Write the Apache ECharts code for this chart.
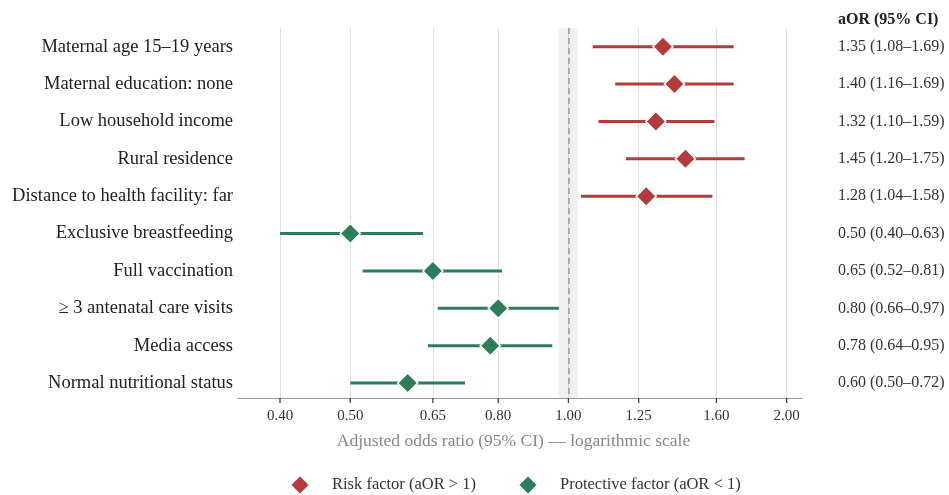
<!DOCTYPE html>
<html><head><meta charset="utf-8">
<script src="https://cdn.jsdelivr.net/npm/echarts@6/dist/echarts.min.js"></script>
<style>html,body{margin:0;padding:0;background:#fff}#c{width:949px;height:495px}</style>
</head><body><div id="c"></div>
<script>
const factors = ["Maternal age 15–19 years","Maternal education: none","Low household income","Rural residence","Distance to health facility: far","Exclusive breastfeeding","Full vaccination","≥ 3 antenatal care visits","Media access","Normal nutritional status"];
const aor = [1.35,1.40,1.32,1.45,1.28,0.50,0.65,0.80,0.78,0.60];
const lower = [1.08,1.16,1.10,1.20,1.04,0.40,0.52,0.66,0.64,0.50];
const upper = [1.69,1.69,1.59,1.75,1.58,0.63,0.81,0.97,0.95,0.72];
const tickValues = [0.40,0.50,0.65,0.80,1.00,1.25,1.60,2.00];
const ciLabels = ["1.35 (1.08–1.69)","1.40 (1.16–1.69)","1.32 (1.10–1.59)","1.45 (1.20–1.75)","1.28 (1.04–1.58)","0.50 (0.40–0.63)","0.65 (0.52–0.81)","0.80 (0.66–0.97)","0.78 (0.64–0.95)","0.60 (0.50–0.72)"];

const RED = '#b23b3b', GREEN = '#2e7d5a';
const FONT = '"Liberation Serif", "DejaVu Serif", serif';
const Y_MIN = -0.5, Y_MAX = 9.4;

const rowIdx = factors.map((_, i) => i);
const riskPts = [], protPts = [], riskCI = [], protCI = [];
aor.forEach((v, i) => {
  if (v > 1) { riskPts.push([v, i]); riskCI.push([lower[i], upper[i], i]); }
  else { protPts.push([v, i]); protCI.push([lower[i], upper[i], i]); }
});

function ciRender(color) {
  return function (params, api) {
    const a = api.coord([api.value(0), api.value(2)]);
    const b = api.coord([api.value(1), api.value(2)]);
    return { type: 'line', shape: { x1: a[0], y1: a[1], x2: b[0], y2: b[1] },
      style: { stroke: color, lineWidth: 3 } };
  };
}
function tickRender(params, api) {
  const p = api.coord([api.value(0), Y_MAX]);
  return { type: 'line', shape: { x1: p[0], y1: p[1], x2: p[0], y2: p[1] + 5 },
    style: { stroke: '#444', lineWidth: 1.3 } };
}

const yCommon = {
  type: 'value', inverse: true, min: Y_MIN, max: Y_MAX,
  axisLine: { show: false }, axisTick: { show: false }, splitLine: { show: false }
};

const chart = echarts.init(document.getElementById('c'));
chart.setOption({
  animation: false,
  textStyle: { fontFamily: FONT },
  title: { text: 'aOR (95% CI)', left: 833, top: 7,
    textStyle: { fontFamily: FONT, fontSize: 16, fontWeight: 'bold', color: '#222' } },
  grid: { left: 238, right: 147, top: 28, bottom: 97 },
  legend: {
    left: 284, top: 469, itemWidth: 20, itemHeight: 20, itemGap: 41, icon: 'diamond',
    data: ['Risk factor (aOR > 1)', 'Protective factor (aOR < 1)'],
    textStyle: { fontFamily: FONT, fontSize: 16.5, color: '#333', padding: [0, 0, 0, 17] }
  },
  xAxis: {
    type: 'log', logBase: 10, min: 0.35, max: 2.1,
    name: 'Adjusted odds ratio (95% CI) — logarithmic scale',
    nameLocation: 'middle', nameGap: 34,
    nameTextStyle: { fontFamily: FONT, fontSize: 17.5, color: '#888', padding: [0, 13, 0, 0] },
    axisLine: { show: true, onZero: false, lineStyle: { color: '#999', width: 1.2 } },
    axisTick: { show: false, customValues: tickValues },
    axisLabel: { show: true, customValues: tickValues, formatter: v => Number(v).toFixed(2),
      fontFamily: FONT, fontSize: 15, color: '#333', margin: 11 },
    splitLine: { show: true, lineStyle: { color: '#e0e0e0', width: 1 } }
  },
  yAxis: [Object.assign({}, yCommon, {
    position: 'left',
    axisLabel: { customValues: rowIdx, formatter: v => factors[Math.round(v)],
      fontFamily: FONT, fontSize: 18.5, color: '#222', margin: 5 }
  }), Object.assign({}, yCommon, {
    position: 'right',
    axisLabel: { customValues: rowIdx, formatter: v => ciLabels[Math.round(v)],
      fontFamily: FONT, fontSize: 16, color: '#333', margin: 36, align: 'left' }
  })],
  series: [
    { type: 'custom', name: 'ticks', renderItem: tickRender,
      data: tickValues.map(v => [v, Y_MAX]),
      encode: { x: 0, y: 1 }, z: 5, silent: true, clip: false },
    { type: 'custom', name: 'riskCI', renderItem: ciRender(RED), data: riskCI,
      encode: { x: [0, 1], y: 2 }, z: 2, silent: true },
    { type: 'custom', name: 'protCI', renderItem: ciRender(GREEN), data: protCI,
      encode: { x: [0, 1], y: 2 }, z: 2, silent: true },
    { type: 'scatter', name: 'Risk factor (aOR > 1)', data: riskPts, symbol: 'diamond', symbolSize: 20,
      itemStyle: { color: RED, borderColor: '#fff', borderWidth: 1.5, opacity: 1 }, z: 3,
      markArea: { silent: true, itemStyle: { color: 'rgba(200,200,200,0.28)' },
        data: [[{ xAxis: 0.97 }, { xAxis: 1.03 }]] },
      markLine: { silent: true, symbol: 'none', label: { show: false },
        lineStyle: { color: '#999', type: [6, 4], width: 1.5 },
        data: [{ xAxis: 1 }] } },
    { type: 'scatter', name: 'Protective factor (aOR < 1)', data: protPts, symbol: 'diamond', symbolSize: 20,
      itemStyle: { color: GREEN, borderColor: '#fff', borderWidth: 1.5, opacity: 1 }, z: 3 }
  ]
});
</script></body></html>
